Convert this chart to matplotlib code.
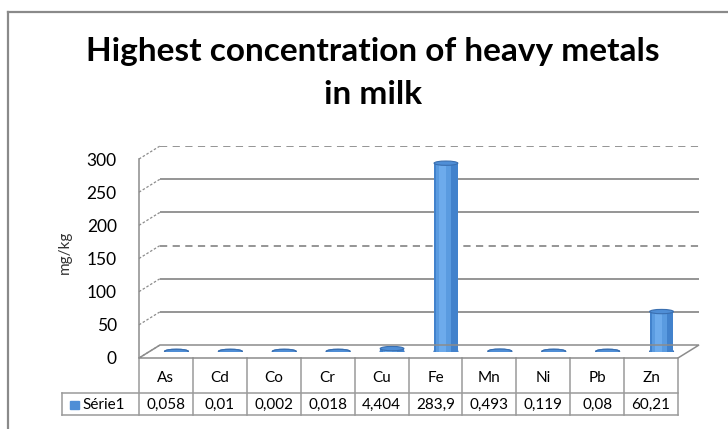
import numpy as np
import matplotlib.pyplot as plt
import matplotlib.transforms as mtransforms
from matplotlib.patches import Ellipse, Polygon, Rectangle
from matplotlib.lines import Line2D

# data
metals = ['As', 'Cd', 'Co', 'Cr', 'Cu', 'Fe', 'Mn', 'Ni', 'Pb', 'Zn']
values = [0.058, 0.01, 0.002, 0.018, 4.404, 283.9, 0.493, 0.119, 0.08, 60.21]
value_labels = ['0,058', '0,01', '0,002', '0,018', '4,404', '283,9', '0,493', '0,119', '0,08', '60,21']
series_name = 'Série1'
yticks = [0, 50, 100, 150, 200, 250, 300]
dashed_ticks = [150, 300]
title = 'Highest concentration of heavy metals\nin milk'
ylabel = 'mg/kg'

plt.rcParams['font.family'] = ['Lato', 'DejaVu Sans']

W, H = 728, 429
fig = plt.figure(figsize=(W / 100, H / 100), dpi=100)
ident = mtransforms.IdentityTransform()


def rect(l, t, r, b):
    # pixel box (top-left origin) -> figure fraction rect
    return [l / W, 1 - b / H, (r - l) / W, (b - t) / H]


# 3D depth offset in pixels
dx, dy = 21, 13
fl, ft, fr, fb = 139, 159, 678, 358

ax_back = fig.add_axes(rect(fl + dx, ft - dy, fr + dx, fb - dy))
ax_mid = fig.add_axes(rect(fl + dx / 2, ft - dy / 2, fr + dx / 2, fb - dy / 2))
ax = fig.add_axes(rect(fl, ft, fr, fb))

x = np.arange(len(metals))
for a in (ax_back, ax_mid, ax):
    a.set_xlim(-0.5, len(metals) - 0.5)
    a.set_ylim(0, 300)
    a.patch.set_visible(False)
    for s in a.spines.values():
        s.set_visible(False)
    a.set_xticks([])
    a.set_yticks([])

grid_c = '#8c8c8c'

# back wall gridlines
for t in yticks[1:]:
    ax_back.axhline(t, color=grid_c, lw=1.3, ls=(0, (4, 3)) if t in dashed_ticks else '-')

# floor
p0 = ax.transData.transform((-0.5, 0))
p1 = ax.transData.transform((len(metals) - 0.5, 0))
floor = Polygon([p0, p1, p1 + [dx, dy], p0 + [dx, dy]], closed=True, fill=False,
                edgecolor=grid_c, lw=1.1, transform=ident)
fig.add_artist(floor)

# side wall connectors
for t in yticks:
    q = ax.transData.transform((-0.5, t))
    fig.add_artist(Line2D([q[0], q[0] + dx], [q[1], q[1] + dy], color=grid_c,
                          lw=0.9, ls=(0, (2, 1.5)), transform=ident))

# cylinders
bw = 0.44
cap_h = 6.5
for xi, v in zip(x, values):
    ax_mid.bar(xi, v, width=bw, color='#4282cc', zorder=2)
    ax_mid.bar(xi - 0.04, v, width=bw * 0.62, color='#5a9be0', zorder=3)
    ax_mid.bar(xi - 0.06, v, width=bw * 0.3, color='#6dabec', zorder=4)
    ax_mid.add_patch(Ellipse((xi, 0), bw, cap_h, color='#3a70b2', zorder=1))
    ax_mid.add_patch(Ellipse((xi, v), bw, cap_h, facecolor='#4f8ed6',
                             edgecolor='#3a6fb0', lw=0.8, zorder=5))

# front left wall edge + tick labels
ax.spines['left'].set_visible(True)
ax.spines['left'].set_color(grid_c)
ax.spines['left'].set_linewidth(1.1)
ax.set_yticks(yticks)
ax.tick_params(axis='y', length=0, pad=16, labelsize=12.5)
ax.set_ylabel(ylabel, fontsize=11, color='#333333')
ax.yaxis.set_label_coords((72 - fl) / (fr - fl), 0.53)

# data table under the plot
tr = mtransforms.blended_transform_factory(ax.transData, ax.transAxes)
ph = fb - ft
h1 = -35 / ph
h2 = -57 / ph
colw = (fr - fl) / len(metals)
xl = -0.5 - (fl - 62) / colw
xr = len(metals) - 0.5
lc = '#9a9a9a'
ax.plot([xl, xr], [h1, h1], color=lc, lw=1.1, transform=tr, clip_on=False)
ax.plot([xl, xr], [h2, h2], color=lc, lw=1.1, transform=tr, clip_on=False)
ax.plot([xl, xl], [h1, h2], color=lc, lw=1.1, transform=tr, clip_on=False)
for xv in np.arange(len(metals) + 1) - 0.5:
    ax.plot([xv, xv], [0, h2], color=lc, lw=1.1, transform=tr, clip_on=False)
for xi, m, lab in zip(x, metals, value_labels):
    ax.text(xi, -20 / ph, m, ha='center', va='center', fontsize=11, transform=tr)
    ax.text(xi, -47 / ph, lab, ha='center', va='center', fontsize=11, transform=tr)
ax.add_patch(Rectangle((xl + 0.15, -51 / ph), 0.16, 8 / ph, color='#4f8ed6',
                       transform=tr, clip_on=False))
ax.text(xl + 0.38, -47 / ph, series_name, ha='left', va='center', fontsize=11, transform=tr)

# title
fig.text(373 / W, 1 - 73 / H, title, ha='center', va='center', fontsize=24,
         fontweight='bold', linespacing=1.62)

# chart area border
fig.add_artist(Line2D([8, W], [H - 12, H - 12], color='#8a8a8a', lw=1.6, transform=ident))
fig.add_artist(Line2D([8, 8], [0, H - 12], color='#8a8a8a', lw=1.6, transform=ident))

fig.savefig('out.png', dpi=100)
